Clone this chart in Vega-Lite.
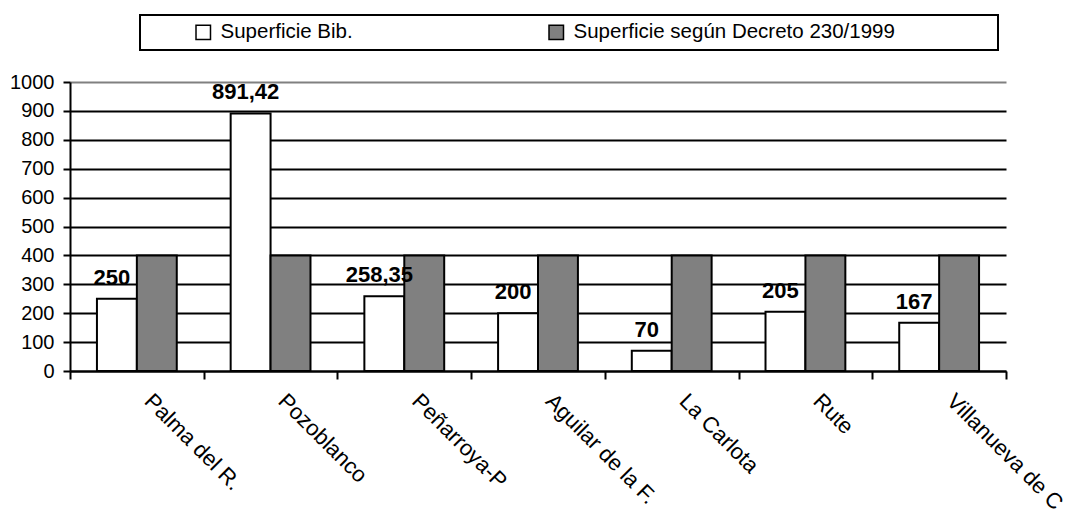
{
  "$schema": "https://vega.github.io/schema/vega-lite/v6.json",
  "width": 936,
  "height": 289,
  "autosize": {"type": "none"},
  "padding": {"left": 70, "top": 82, "right": 71, "bottom": 152},
  "background": "white",
  "config": {
    "font": "Liberation Sans",
    "view": {"stroke": null},
    "locale": {"number": {"decimal": ",", "thousands": ".", "grouping": [3], "currency": ["", " €"]}}
  },
  "data": {
    "values": [
      {"ciudad": "Palma del R.", "serie": "Superficie Bib.", "valor": 250},
      {"ciudad": "Palma del R.", "serie": "Superficie según Decreto 230/1999", "valor": 400},
      {"ciudad": "Pozoblanco", "serie": "Superficie Bib.", "valor": 891.42},
      {"ciudad": "Pozoblanco", "serie": "Superficie según Decreto 230/1999", "valor": 400},
      {"ciudad": "Peñarroya-P", "serie": "Superficie Bib.", "valor": 258.35},
      {"ciudad": "Peñarroya-P", "serie": "Superficie según Decreto 230/1999", "valor": 400},
      {"ciudad": "Aguilar de la F.", "serie": "Superficie Bib.", "valor": 200},
      {"ciudad": "Aguilar de la F.", "serie": "Superficie según Decreto 230/1999", "valor": 400},
      {"ciudad": "La Carlota", "serie": "Superficie Bib.", "valor": 70},
      {"ciudad": "La Carlota", "serie": "Superficie según Decreto 230/1999", "valor": 400},
      {"ciudad": "Rute", "serie": "Superficie Bib.", "valor": 205},
      {"ciudad": "Rute", "serie": "Superficie según Decreto 230/1999", "valor": 400},
      {"ciudad": "Villanueva de C", "serie": "Superficie Bib.", "valor": 167},
      {"ciudad": "Villanueva de C", "serie": "Superficie según Decreto 230/1999", "valor": 400}
    ]
  },
  "encoding": {
    "x": {
      "field": "ciudad",
      "type": "nominal",
      "sort": null,
      "scale": {"paddingInner": 0, "paddingOuter": 0},
      "axis": {
        "title": null,
        "labelAngle": 45,
        "labelFontSize": 22,
        "labelColor": "black",
        "labelPadding": 11,
        "labelOffset": 18,
        "labelLimit": 300,
        "domainColor": "black",
        "domainWidth": 2,
        "tickColor": "black",
        "tickWidth": 2,
        "tickSize": 8,
        "tickBand": "extent",
        "grid": false
      }
    },
    "xOffset": {
      "field": "serie",
      "type": "nominal",
      "sort": null,
      "scale": {"paddingInner": 0, "paddingOuter": 0.675}
    },
    "y": {
      "field": "valor",
      "type": "quantitative",
      "scale": {"domain": [0, 1000], "nice": false},
      "axis": {
        "title": null,
        "values": [0, 100, 200, 300, 400, 500, 600, 700, 800, 900, 1000],
        "format": "d",
        "labelOverlap": false,
        "labelFontSize": 20,
        "labelColor": "black",
        "labelPadding": 9,
        "domainColor": "black",
        "domainWidth": 2,
        "tickColor": "black",
        "tickWidth": 2,
        "tickSize": 7,
        "grid": true,
        "gridColor": {"condition": {"test": "datum.value == 1000", "value": "#808080"}, "value": "black"},
        "gridWidth": 2,
        "gridOpacity": 1
      }
    }
  },
  "layer": [
    {
      "mark": {"type": "bar", "stroke": "black", "strokeWidth": 2},
      "encoding": {
        "fill": {
          "field": "serie",
          "type": "nominal",
          "sort": null,
          "scale": {"range": ["white", "#808080"]},
          "legend": {
            "title": " ",
            "titleOrient": "left",
            "titlePadding": 46,
            "titleFontSize": 10,
            "orient": "none",
            "legendX": 70,
            "legendY": -67,
            "direction": "horizontal",
            "columns": 2,
            "columnPadding": 193,
            "padding": 7,
            "strokeColor": "black",
            "fillColor": "white",
            "symbolType": "square",
            "symbolSize": 210,
            "symbolStrokeColor": "black",
            "symbolStrokeWidth": 1.5,
            "symbolOpacity": 1,
            "labelFontSize": 20.5,
            "labelColor": "black",
            "labelOffset": 7,
            "labelLimit": 700,
            "labelExpr": "datum.label == 'Superficie Bib.' ? datum.label : datum.label + '\u2800\u2800\u2800\u2800\u2800 \u2800'",
            "encode": {"legend": {"update": {"strokeWidth": {"value": 2}}}}
          }
        }
      }
    },
    {
      "transform": [{"filter": "datum.serie == 'Superficie Bib.'"}],
      "mark": {"type": "text", "fontWeight": "bold", "fontSize": 22, "baseline": "bottom", "dy": -9, "dx": -5, "color": "black"},
      "encoding": {
        "text": {"field": "valor", "type": "quantitative", "format": ".2~f"}
      }
    }
  ]
}
